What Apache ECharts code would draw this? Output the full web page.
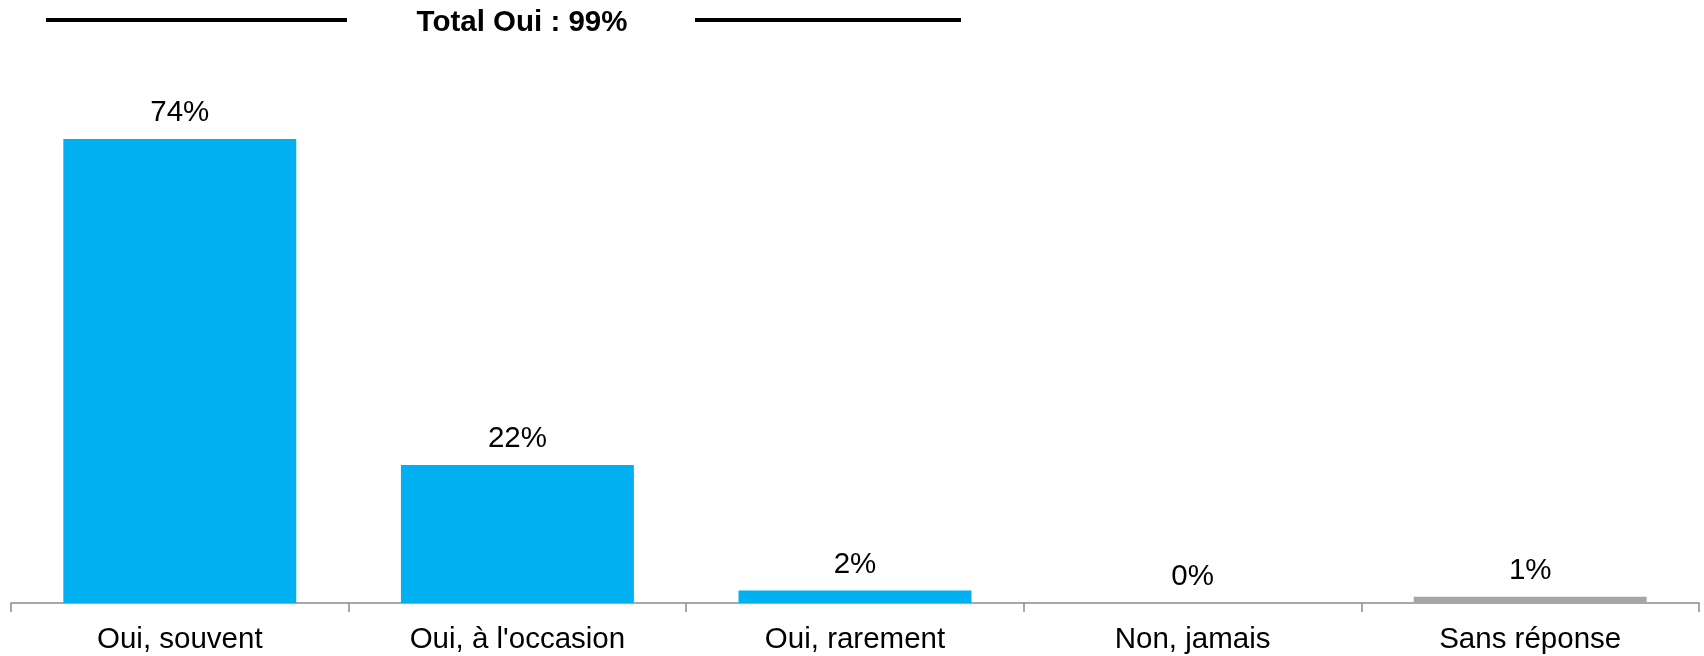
<!DOCTYPE html>
<html>
<head>
<meta charset="utf-8">
<script src="https://cdn.jsdelivr.net/npm/echarts@6/dist/echarts.min.js"></script>
<style>
  html, body { margin: 0; padding: 0; background: #ffffff; }
  #chart { width: 1704px; height: 656px; }
</style>
</head>
<body>
<div id="chart"></div>
<script>
// Survey answers and their shares (%)
const categories = ['Oui, souvent', "Oui, à l'occasion", 'Oui, rarement', 'Non, jamais', 'Sans réponse'];
const values = [74, 22, 2, 0, 1];
const barColors = ['#00B0F0', '#00B0F0', '#00B0F0', '#00B0F0', '#A6A6A6'];
const headline = 'Total Oui : 99%';

const FONT = '"Liberation Sans", Arial, sans-serif';
const SIZE = 29.5;

const chart = echarts.init(document.getElementById('chart'), null, { renderer: 'canvas' });

chart.setOption({
  animation: false,
  backgroundColor: '#ffffff',
  grid: { left: 11, right: 5, top: 101.4, bottom: 53, containLabel: false },
  xAxis: {
    type: 'category',
    data: categories,
    boundaryGap: true,
    axisLine: { show: true, lineStyle: { color: '#8c8c8c', width: 1.5 } },
    axisTick: { show: true, length: 9, lineStyle: { color: '#8c8c8c', width: 1.5 } },
    axisLabel: { color: '#000000', fontFamily: FONT, fontSize: SIZE, margin: 22, interval: 0 }
  },
  yAxis: {
    type: 'value',
    min: 0,
    max: 80,
    show: false,
    splitLine: { show: false }
  },
  series: [{
    type: 'bar',
    barWidth: '69%',
    data: values.map((v, i) => ({ value: v, itemStyle: { color: barColors[i] } })),
    label: {
      show: true,
      position: 'top',
      distance: 11,
      color: '#000000',
      fontFamily: FONT,
      fontSize: SIZE,
      formatter: p => p.value + '%'
    }
  }],
  graphic: [
    {
      type: 'line',
      shape: { x1: 46, y1: 20, x2: 347, y2: 20 },
      style: { stroke: '#000000', lineWidth: 4 }
    },
    {
      type: 'line',
      shape: { x1: 695, y1: 20, x2: 961, y2: 20 },
      style: { stroke: '#000000', lineWidth: 4 }
    },
    {
      type: 'text',
      x: 522,
      y: 23,
      style: {
        text: headline,
        fill: '#000000',
        font: 'bold ' + SIZE + 'px ' + FONT,
        textAlign: 'center',
        textVerticalAlign: 'middle'
      }
    }
  ]
});
</script>
</body>
</html>
